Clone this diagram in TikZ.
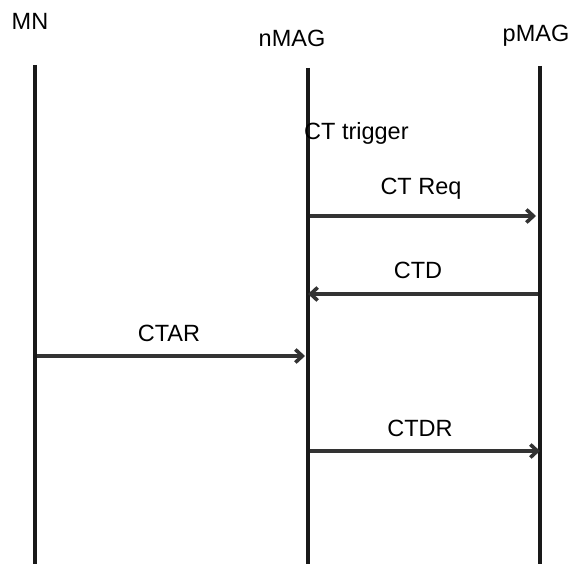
\documentclass[tikz,border=0pt]{standalone}
\usepackage{fontspec}
\setmainfont{Liberation Sans}
\usetikzlibrary{arrows.meta}
\begin{document}
\begin{tikzpicture}[x=1pt,y=-1pt,
  lifeline/.style={line width=4pt,black!90},
  msg/.style={line width=3.6pt,black!80,-{Straight Barb[length=7pt,width=13pt]}},
  lbl/.style={font=\fontsize{23.5}{26}\selectfont,inner sep=0pt}]
\useasboundingbox (0,0) rectangle (573,564);
\node[lbl] (mn) at (30,21) {MN};
\node[lbl] (nmag) at (292,38) {nMAG};
\node[lbl] (pmag) at (536,36) {pMAG};
\coordinate (mnT) at (35,65);
\coordinate (mnB) at (35,564);
\coordinate (nT) at (308,68);
\coordinate (nB) at (308,564);
\coordinate (pT) at (540,66);
\coordinate (pB) at (540,564);
\draw[lifeline] (mnT) -- (mnB);
\draw[lifeline] (nT) -- (nB);
\draw[lifeline] (pT) -- (pB);
\node[lbl,anchor=west] (trig) at (304,133) {CT trigger};
% CT Req
\coordinate (a1) at (310,216);
\coordinate (b1) at (536,216);
\draw[msg] (a1) -- (b1);
\node[lbl] (l1) at (421,189) {CT Req};
% CTD
\coordinate (a2) at (538,294);
\coordinate (b2) at (308,294);
\draw[msg] (a2) -- (b2);
\node[lbl] (l2) at (418,270) {CTD};
% CTAR
\coordinate (a3) at (37,356);
\coordinate (b3) at (305,356);
\draw[msg] (a3) -- (b3);
\node[lbl] (l3) at (169,333) {CTAR};
% CTDR
\coordinate (a4) at (310,451);
\coordinate (b4) at (540,451);
\draw[msg] (a4) -- (b4);
\node[lbl] (l4) at (420,428) {CTDR};
\end{tikzpicture}
\end{document}
